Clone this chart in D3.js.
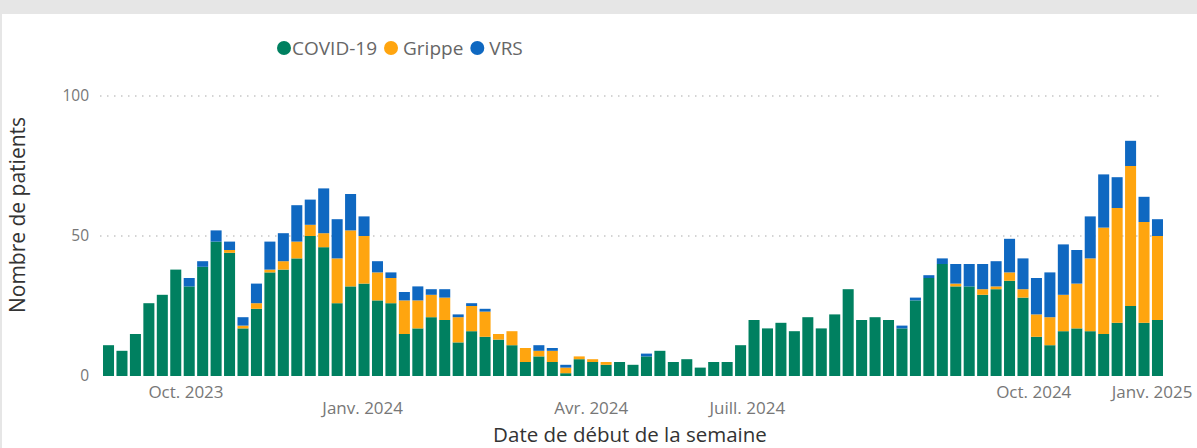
<!DOCTYPE html>
<html>
<head>
<meta charset="utf-8">
<script src="https://cdn.jsdelivr.net/npm/d3@7"></script>
<style>
  body { margin: 0; background: #e6e6e6; }
  text { font-family: "Segoe UI", "Open Sans", sans-serif; }
</style>
</head>
<body>
<svg width="1197" height="448"></svg>
<script>

var weeks = d3.range(1, 80);

var covid = [11, 9, 15, 26, 29, 38, 32, 39, 48, 44, 17, 24, 37, 38, 42, 50, 46, 26, 32, 33,
             27, 26, 15, 17, 21, 20, 12, 16, 14, 13, 11, 5, 7, 5, 1, 6, 5, 4, 5, 4,
             7, 9, 5, 6, 3, 5, 5, 11, 20, 17, 19, 16, 21, 17, 22, 31, 20, 21, 20, 17,
             27, 35, 40, 32, 32, 29, 31, 34, 28, 14, 11, 16, 17, 16, 15, 19, 25, 19, 20];
var grippe = [0, 0, 0, 0, 0, 0, 0, 0, 0, 1, 1, 2, 1, 3, 6, 4, 5, 16, 20, 17,
              10, 9, 12, 10, 8, 8, 9, 9, 9, 2, 5, 5, 2, 4, 2, 1, 1, 1, 0, 0,
              0, 0, 0, 0, 0, 0, 0, 0, 0, 0, 0, 0, 0, 0, 0, 0, 0, 0, 0, 0,
              0, 0, 0, 1, 0, 2, 1, 3, 3, 8, 10, 13, 16, 26, 38, 41, 50, 36, 30];
var vrs = [0, 0, 0, 0, 0, 0, 3, 2, 4, 3, 3, 7, 10, 10, 13, 9, 16, 14, 13, 7,
           4, 2, 3, 5, 2, 3, 1, 1, 1, 0, 0, 0, 2, 1, 1, 0, 0, 0, 0, 0,
           1, 0, 0, 0, 0, 0, 0, 0, 0, 0, 0, 0, 0, 0, 0, 0, 0, 0, 0, 1,
           1, 1, 2, 7, 8, 9, 9, 12, 11, 13, 16, 18, 12, 15, 19, 11, 9, 9, 6];

var seriesNames = ['COVID-19', 'Grippe', 'VRS'];
var colors = ['#008060', '#FFA50F', '#0F68C1'];

var yTicks = [0, 50, 100];
var tickLabels = ['Oct. 2023', 'Janv. 2024', 'Avr. 2024', 'Juill. 2024', 'Oct. 2024', 'Janv. 2025'];
var tickWeeks = [6.76, 19.9, 36.9, 48.5, 69.8, 78.6];
var tickRows = [0, 1, 1, 1, 0, 0];

var svg = d3.select('svg');

// card background
svg.append('rect').attr('x', 2).attr('y', 14).attr('width', 1195).attr('height', 434).attr('fill', '#fff');

var x = d3.scaleBand()
  .domain(weeks)
  .range([101.8, 1164.2])
  .paddingInner(0.18)
  .paddingOuter(0.09);

// continuous position of week centres, for the date labels
var xc = d3.scaleLinear()
  .domain([1, 79])
  .range([x(1) + x.bandwidth() / 2, x(79) + x.bandwidth() / 2]);

var y = d3.scaleLinear().domain([0, 100]).range([376, 96]);

var table = weeks.map(function(w, i) {
  return { week: w, 'COVID-19': covid[i], 'Grippe': grippe[i], 'VRS': vrs[i] };
});

var stack = d3.stack().keys(seriesNames);

// gridlines
svg.append('g')
  .selectAll('line')
  .data(yTicks.filter(function(d) { return d > 0; }))
  .enter()
  .append('line')
  .attr('x1', 100).attr('x2', 1162)
  .attr('y1', y).attr('y2', y)
  .attr('stroke', '#c6c6c6')
  .attr('stroke-width', 1.5)
  .attr('stroke-dasharray', '1.5,5.5');

// y labels
svg.append('g')
  .selectAll('text')
  .data(yTicks)
  .enter()
  .append('text')
  .attr('x', 89)
  .attr('y', y)
  .attr('dy', '0.35em')
  .attr('text-anchor', 'end')
  .attr('font-size', 15.5)
  .attr('fill', '#777')
  .text(function(d) { return d; });

// bars
svg.append('g')
  .selectAll('g')
  .data(stack(table))
  .enter()
  .append('g')
  .attr('fill', function(d, i) { return colors[i]; })
  .selectAll('rect')
  .data(function(d) { return d; })
  .enter()
  .append('rect')
  .attr('x', function(d) { return x(d.data.week); })
  .attr('width', x.bandwidth())
  .attr('y', function(d) { return y(d[1]); })
  .attr('height', function(d) { return y(d[0]) - y(d[1]); });

// x date labels
svg.append('g')
  .selectAll('text')
  .data(tickLabels)
  .enter()
  .append('text')
  .attr('x', function(d, i) { return xc(tickWeeks[i]); })
  .attr('y', function(d, i) { return tickRows[i] ? 408 : 392; })
  .attr('dy', '0.35em')
  .attr('text-anchor', 'middle')
  .attr('font-size', 17)
  .attr('fill', '#777')
  .text(function(d) { return d; });

// axis titles
svg.append('text')
  .attr('x', 630).attr('y', 435)
  .attr('dy', '0.35em')
  .attr('text-anchor', 'middle')
  .attr('font-size', 20.5)
  .attr('fill', '#333')
  .text('Date de début de la semaine');

svg.append('text')
  .attr('transform', 'translate(18,215) rotate(-90)')
  .attr('dy', '0.35em')
  .attr('text-anchor', 'middle')
  .attr('font-size', 21)
  .attr('fill', '#333')
  .text('Nombre de patients');

// legend
var cx = 284;
var legend = svg.append('g');
seriesNames.forEach(function(name, i) {
  legend.append('circle')
    .attr('cx', cx).attr('cy', 48).attr('r', 7)
    .attr('fill', colors[i]);
  var t = legend.append('text')
    .attr('x', cx + 8 + (i ? 4 : 0)).attr('y', 48)
    .attr('dy', '0.35em')
    .attr('font-size', 19)
    .attr('fill', '#666')
    .text(name);
  cx = cx + 8 + (i ? 4 : 0) + t.node().getComputedTextLength() + 14;
});

</script>
</body>
</html>
